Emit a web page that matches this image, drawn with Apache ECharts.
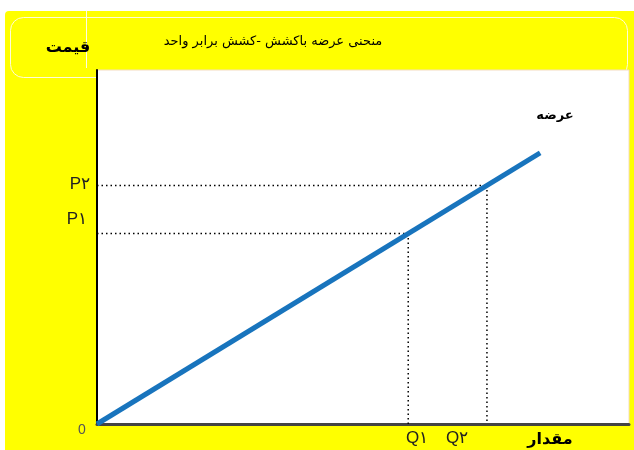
<!DOCTYPE html>
<html>
<head>
<meta charset="utf-8">
<script src="https://cdn.jsdelivr.net/npm/echarts@6/dist/echarts.min.js"></script>
<style>
  html, body { margin: 0; padding: 0; background: #ffffff; }
  #chart { width: 634px; height: 450px; }
</style>
</head>
<body>
<div id="chart"></div>
<script>
// Supply curve with unit elasticity: straight line through the origin
const supplyLine = [[0, 0], [83.3, 76.6]];
const quantities = [58.5, 73.3];          // Q1, Q2
const prices = [53.8, 67.4];              // P1, P2
const quantityNames = ['Q\u06F1', 'Q\u06F2'];
const priceNames = ['P\u06F1', 'P\u06F2'];
const titleText = 'منحنی عرضه باکشش -کشش برابر واحد';
const priceAxisName = 'قیمت';
const quantityAxisName = 'مقدار';
const curveName = 'عرضه';
const originLabel = '0';

const chart = echarts.init(document.getElementById('chart'), null, { renderer: 'canvas' });

const guideStyle = { color: '#000', width: 1.5, type: [1.5, 3] };
const guides = [];
quantities.forEach((q, i) => {
  const p = prices[i];
  guides.push({
    type: 'line', data: [[0, p], [q, p]], symbol: 'none', silent: true,
    lineStyle: guideStyle, z: 1
  });
  guides.push({
    type: 'line', data: [[q, p], [q, 0]], symbol: 'none', silent: true,
    lineStyle: guideStyle, z: 1
  });
});

const labelFont = { fontFamily: 'Liberation Sans, Arial, sans-serif', fontSize: 17, fill: '#222' };
const faFont = 'DejaVu Sans, sans-serif';

chart.setOption({
  backgroundColor: '#ffffff',
  animation: false,
  grid: { left: 97, top: 70, right: 5, bottom: 26, show: true, backgroundColor: '#ffffff', borderColor: '#f3dcc0', borderWidth: 1, z: 0 },
  xAxis: {
    type: 'value', min: 0, max: 100,
    axisLine: { show: true, lineStyle: { color: '#444', width: 3 } },
    axisTick: { show: false }, axisLabel: { show: false }, splitLine: { show: false }
  },
  yAxis: {
    type: 'value', min: 0, max: 100,
    axisLine: { show: true, lineStyle: { color: '#000', width: 2 } },
    axisTick: { show: false }, axisLabel: { show: false }, splitLine: { show: false }
  },
  series: [
    {
      type: 'line', name: curveName, data: supplyLine, symbol: 'none',
      lineStyle: { color: '#1874bd', width: 5 }, z: 3
    },
    ...guides
  ],
  graphic: [
    // yellow panel
    { type: 'rect', z: -20, shape: { x: 5, y: 11, width: 640, height: 450, r: [4, 0, 0, 0] }, style: { fill: '#ffff00' } },
    // rounded header frame
    { type: 'rect', z: -19, shape: { x: 10.5, y: 17.5, width: 617, height: 60, r: 13 }, style: { fill: 'none', stroke: '#fffbd8', lineWidth: 1 } },
    { type: 'line', z: -19, shape: { x1: 86.5, y1: 11, x2: 86.5, y2: 68 }, style: { stroke: '#fffbe8', lineWidth: 1 } },
    // title
    { type: 'text', z: 10, style: { text: titleText, x: 273, y: 42, align: 'center', verticalAlign: 'middle', fontFamily: faFont, fontSize: 13, fill: '#000' } },
    // axis names
    { type: 'text', z: 10, style: { text: priceAxisName, x: 68, y: 48, align: 'center', verticalAlign: 'middle', fontFamily: faFont, fontSize: 16, fontWeight: 'bold', fill: '#000' } },
    { type: 'text', z: 10, style: { text: quantityAxisName, x: 550, y: 440, align: 'center', verticalAlign: 'middle', fontFamily: faFont, fontSize: 16, fontWeight: 'bold', fill: '#000' } },
    { type: 'text', z: 10, style: { text: curveName, x: 555, y: 116, align: 'center', verticalAlign: 'middle', fontFamily: faFont, fontSize: 13, fontWeight: 'bold', fill: '#000' } },
    // tick names
    { type: 'text', z: 10, style: Object.assign({ text: priceNames[1], x: 90, y: 184, align: 'right', verticalAlign: 'middle' }, labelFont) },
    { type: 'text', z: 10, style: Object.assign({ text: priceNames[0], x: 87, y: 219, align: 'right', verticalAlign: 'middle' }, labelFont) },
    { type: 'text', z: 10, style: Object.assign({ text: quantityNames[0], x: 417, y: 438, align: 'center', verticalAlign: 'middle' }, labelFont) },
    { type: 'text', z: 10, style: Object.assign({ text: quantityNames[1], x: 457, y: 438, align: 'center', verticalAlign: 'middle' }, labelFont) },
    { type: 'text', z: 10, style: { text: originLabel, x: 82, y: 430, align: 'center', verticalAlign: 'middle', fontFamily: 'Liberation Sans, sans-serif', fontSize: 14, fill: '#555' } }
  ]
});
</script>
</body>
</html>
